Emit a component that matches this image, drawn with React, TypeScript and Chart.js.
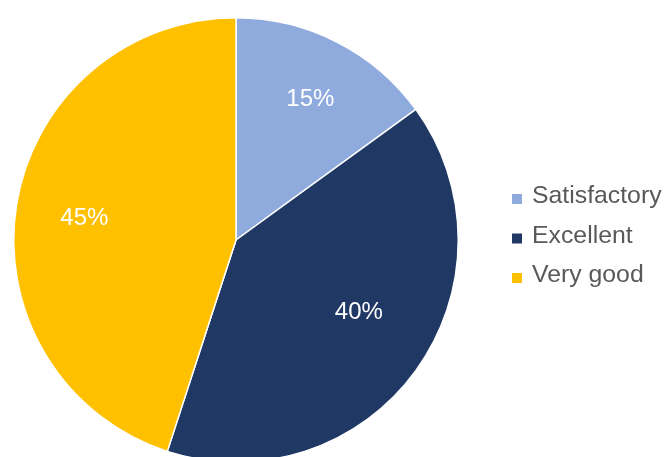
import React, { useEffect, useRef } from "react";
import { Chart, registerables } from "chart.js";

Chart.register(...registerables);

const categories = ["Satisfactory", "Excellent", "Very good"];
const values = [15, 40, 45];
const labels = ["15%", "40%", "45%"];
const colors = ["#8FAADC", "#203864", "#FFC000"];
// label placement (fraction of radius, angle tweak in degrees)
const labelRadius = [0.72, 0.64, 0.69];
const labelAngleShift = [0.7, -5.7, -0.4];

const FONT = "'Liberation Sans', Arial, sans-serif";

const overlayPlugin = {
  id: "overlay",
  afterDraw(chart: any) {
    const ctx = chart.ctx as CanvasRenderingContext2D;
    const meta = chart.getDatasetMeta(0);
    ctx.save();
    ctx.font = `24px ${FONT}`;
    ctx.fillStyle = "#FFFFFF";
    ctx.textAlign = "center";
    ctx.textBaseline = "middle";
    meta.data.forEach((arc: any, i: number) => {
      const p = arc.getProps(["x", "y", "startAngle", "endAngle", "outerRadius"], true);
      const mid = (p.startAngle + p.endAngle) / 2 + (labelAngleShift[i] * Math.PI) / 180;
      const r = p.outerRadius * labelRadius[i];
      ctx.fillText(labels[i], p.x + Math.cos(mid) * r, p.y + Math.sin(mid) * r + 1);
    });
    // legend
    const lx = 512;
    const ly = 194;
    const step = 39.5;
    ctx.font = `24.8px ${FONT}`;
    ctx.textAlign = "left";
    ctx.textBaseline = "alphabetic";
    categories.forEach((c, i) => {
      const y = ly + i * step;
      ctx.fillStyle = colors[i];
      ctx.fillRect(lx, y, 10, 10);
      ctx.fillStyle = "#595959";
      ctx.fillText(c, lx + 20, y + 9);
    });
    ctx.restore();
  },
};

export default function App() {
  const ref = useRef<HTMLCanvasElement>(null);
  useEffect(() => {
    if (!ref.current) return;
    const chart = new Chart(ref.current, {
      type: "pie",
      data: {
        labels: categories,
        datasets: [
          {
            data: values,
            backgroundColor: colors,
            borderColor: "#FFFFFF",
            borderWidth: 1.5,
          },
        ],
      },
      options: {
        animation: false,
        responsive: false,
        layout: { padding: { left: 13, right: 206, top: 17, bottom: 17 } },
        plugins: {
          legend: { display: false },
          tooltip: { enabled: false },
        },
      },
      plugins: [overlayPlugin],
    });
    return () => chart.destroy();
  }, []);
  return (
    <div
      style={{
        position: "fixed",
        left: 0,
        top: 0,
        width: 665,
        height: 457,
        overflow: "hidden",
        background: "#FFFFFF",
      }}
    >
      <canvas ref={ref} width={665} height={480} style={{ width: 665, height: 480, display: "block" }} />
    </div>
  );
}
